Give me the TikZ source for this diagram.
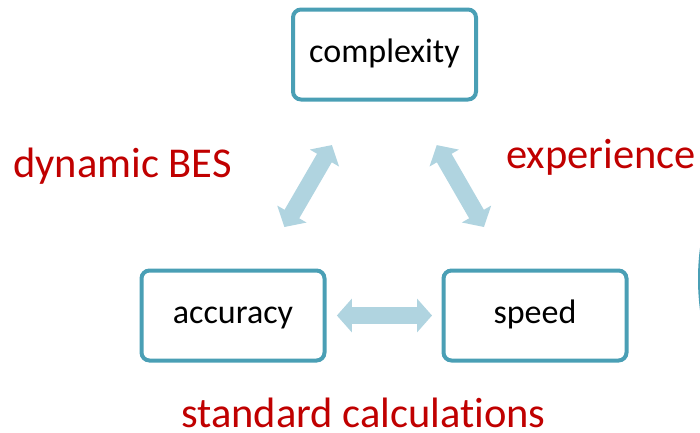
\documentclass[tikz,border=0pt]{standalone}
\usepackage{fontspec}
\setmainfont{Carlito}[RawFeature={-liga;-clig;-calt;-dlig}]
\usetikzlibrary{arrows.meta,calc}
\definecolor{boxline}{HTML}{4A9FB5}
\definecolor{linkblue}{HTML}{B0D4E0}
\definecolor{notered}{HTML}{C00000}
\begin{document}
\begin{tikzpicture}[x=1pt,y=-1pt,
  factor/.style={draw=boxline, line width=4pt, rounded corners=8pt, fill=white,
    minimum width=183pt, minimum height=90pt, text height=23pt, text depth=7pt,
    font=\fontsize{34}{40}\selectfont},
  note/.style={text=notered, font=\fontsize{42.5}{50}\selectfont, inner sep=0pt,
    text depth=0pt, anchor=base west},
  link/.style={draw=linkblue, line width=17pt,
    {Triangle[length=15pt 0 0,width=33pt 0 0]}-{Triangle[length=15pt 0 0,width=33pt 0 0]}}]
  \useasboundingbox (0,0) rectangle (700,432);

  % three competing factors
  \node[factor] (cx) at (384.5,54.5) {complexity};
  \node[factor] (ac) at (233,315.5) {accuracy};
  \node[factor] (sp) at (535,315.5) {speed};

  % trade-off arrows between the factors
  \draw[link] ($(cx.center)!0.347!(ac.center)$) -- ($(cx.center)!0.661!(ac.center)$);
  \draw[link] ($(cx.center)!0.347!(sp.center)$) -- ($(cx.center)!0.661!(sp.center)$);
  \draw[link] ($(ac.center)!0.344!(sp.center)$) -- ($(ac.center)!0.659!(sp.center)$);

  % approaches
  \node[note] (bes) at (13,177) {dynamic BES};
  \node[note] (exp) at (506,168) {experience};
  \node[note] (std) at (181,427) {standard calculations};

  % edge of a shape just outside the frame
  \begin{scope}
    \clip (0,0) rectangle (700,432);
    \draw[boxline, line width=3pt] (939.5,279) circle[radius=240];
  \end{scope}
\end{tikzpicture}
\end{document}
